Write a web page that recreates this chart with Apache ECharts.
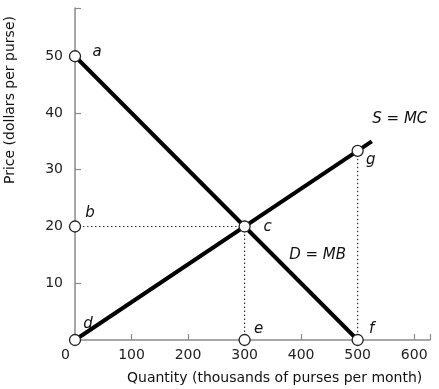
<!DOCTYPE html>
<html><head><meta charset="utf-8">
<script src="https://cdn.jsdelivr.net/npm/echarts@6/dist/echarts.min.js"></script>
<style>html,body{margin:0;padding:0;background:#fff}#c{width:439px;height:389px}</style>
</head><body><div id="c"></div>
<script>
const demandQ = [0, 500];
const demandP = [50, 0];
const supplyQ = [0, 525];
const supplyP = [0, 35];
const pointNames = ['a', 'b', 'c', 'd', 'e', 'f', 'g'];
const pointQ = [0, 0, 300, 0, 300, 500, 500];
const pointP = [50, 20, 20, 0, 0, 0, 33.33];
const guideH = [[0, 20], [300, 20]];
const guideV1 = [[300, 20], [300, 0]];
const guideV2 = [[500, 33.33], [500, 0]];
const xTicks = [0, 100, 200, 300, 400, 500, 600];
const yTicks = [10, 20, 30, 40, 50];
const supplyName = 'S = MC';
const demandName = 'D = MB';
const xTitle = 'Quantity (thousands of purses per month)';
const yTitle = 'Price (dollars per purse)';

const labelOffsets = {a:[22,-4], b:[15,-13], c:[23,1], d:[13,-16], e:[14,-11], f:[14,-11], g:[13,9]};
const FONT = '"DejaVu Sans"';
const chart = echarts.init(document.getElementById('c'), null, {renderer:'canvas'});
const axisCol = '#8a8a8a';
const letterStyle = {fontStyle: 'italic', fontSize: 15, fontFamily: FONT, color: '#111', opacity: 1};

const option = {
  animation: false,
  grid: {left: 75, right: 9, top: 8, bottom: 49},
  xAxis: {
    type: 'value', min: 0, max: 628, interval: 100,
    axisLine: {show: true, lineStyle: {color: axisCol, width: 1.5}},
    axisTick: {show: true, inside: true, length: 6, lineStyle: {color: axisCol, width: 1.2}},
    splitLine: {show: false},
    axisLabel: {
      margin: 8, color: '#222', fontSize: 14, fontFamily: FONT,
      formatter: v => xTicks.includes(v) ? (v === 0 ? '{z|0}' : String(v)) : '',
      rich: {z: {fontSize: 14, fontFamily: FONT, color: '#222', padding: [0, 19, 0, 0]}}
    }
  },
  yAxis: {
    type: 'value', min: 0, max: 58.5, interval: 10,
    axisLine: {show: true, lineStyle: {color: axisCol, width: 1.5}},
    axisTick: {show: true, inside: true, length: 6, lineStyle: {color: axisCol, width: 1.2}},
    splitLine: {show: false},
    axisLabel: {
      margin: 12, color: '#222', fontSize: 14, fontFamily: FONT,
      formatter: v => yTicks.includes(v) ? String(v) : ''
    }
  },
  series: [
    {type: 'line', data: guideH, symbol: 'none', lineStyle: {color: '#333', width: 1.2, type: [1.5, 2.5]}, z: 1},
    {type: 'line', data: guideV1, symbol: 'none', lineStyle: {color: '#333', width: 1.2, type: [1.5, 2.5]}, z: 1},
    {type: 'line', data: guideV2, symbol: 'none', lineStyle: {color: '#333', width: 1.2, type: [1.5, 2.5]}, z: 1},
    {type: 'line', symbol: 'circle', symbolSize: 0, showSymbol: true, lineStyle: {color: '#000', width: 4},
     itemStyle: {color: '#000'},
     data: demandQ.map((q, i) => ({value: [q, demandP[i]],
       label: i === demandQ.length - 1 ? {show: true, formatter: demandName, position: 'inside', offset: [-40, -85]} : {show: false}})),
     label: letterStyle, z: 2},
    {type: 'line', symbol: 'circle', symbolSize: 0, showSymbol: true, lineStyle: {color: '#000', width: 4},
     itemStyle: {color: '#000'},
     data: supplyQ.map((q, i) => ({value: [q, supplyP[i]],
       label: i === supplyQ.length - 1 ? {show: true, formatter: supplyName, position: 'inside', offset: [28, -22]} : {show: false}})),
     label: letterStyle, z: 2},
    {type: 'scatter', symbol: 'circle', symbolSize: 11,
     itemStyle: {color: '#fff', borderColor: '#222', borderWidth: 1.3, opacity: 1},
     data: pointNames.map((n, i) => ({value: [pointQ[i], pointP[i]], name: n,
       label: {show: true, formatter: n, position: 'inside', offset: labelOffsets[n]}})),
     label: letterStyle, z: 5}
  ],
  graphic: [
    {type: 'text', left: 127, top: 371, style: {text: xTitle, font: '14px ' + FONT, fill: '#111'}},
    {type: 'text', x: 3, y: 184, rotation: Math.PI / 2, style: {text: yTitle, font: '14px ' + FONT, fill: '#111'}}
  ]
};
chart.setOption(option);
</script></body></html>
